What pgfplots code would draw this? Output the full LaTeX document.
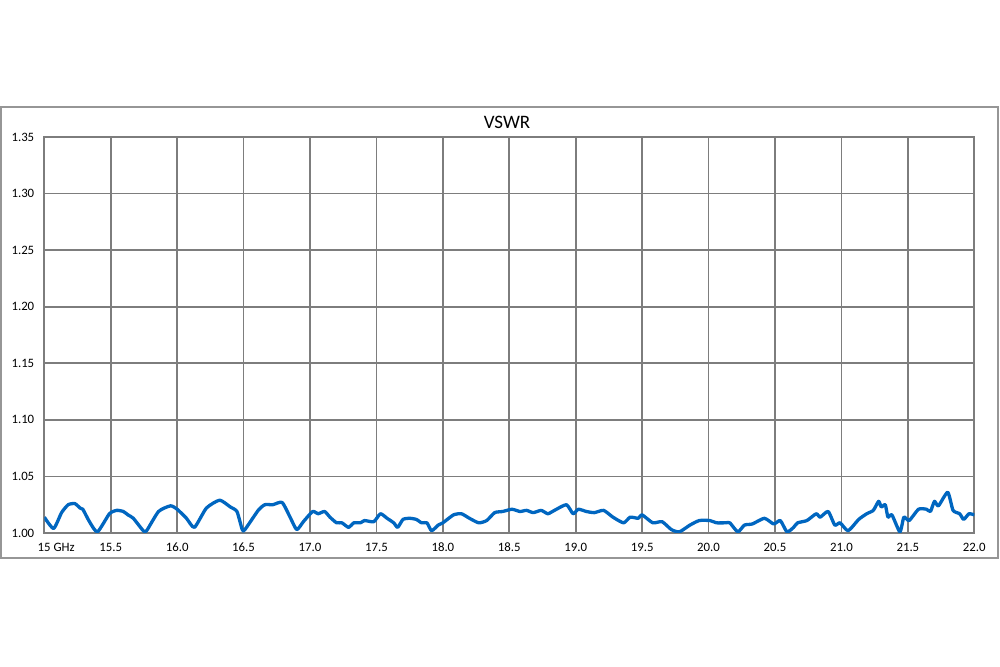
\documentclass[border=0pt]{standalone}
\usepackage{pgfplots}
\pgfplotsset{compat=1.18}
\usepackage{fontspec}
\setmainfont{Carlito}
\definecolor{gridgray}{RGB}{125,125,125}
\definecolor{framegray}{RGB}{150,150,150}
\definecolor{vswrblue}{RGB}{0,102,192}
\begin{document}
\begin{tikzpicture}[x=0.5pt,y=0.5pt]
\path[use as bounding box] (0,0) rectangle (1000,667);
\fill[white] (0,0) rectangle (1000,667);
\draw[framegray, line width=1pt] (1,109) rectangle (998,560);
\node[font=\fontsize{9.5pt}{11pt}\selectfont] at (507,545) {VSWR};
\begin{axis}[
  at={(22.15pt,67pt)}, anchor=south west,
  scale only axis, width=465pt, height=198pt,
  xmin=15, xmax=22, ymin=1.0, ymax=1.35,
  xtick={15,15.5,...,22},
  xticklabels={\makebox[0pt][l]{\hspace*{-3.3pt}15 GHz},15.5,16.0,16.5,17.0,17.5,18.0,18.5,19.0,19.5,20.0,20.5,21.0,21.5,22.0},
  ytick={1.00,1.05,...,1.36},
  yticklabel style={/pgf/number format/fixed, /pgf/number format/fixed zerofill, /pgf/number format/precision=2},
  /pgf/number format/assume math mode=true,
  tick label style={font=\fontsize{6.4pt}{7pt}\selectfont},
  xticklabel style={yshift=-1.5pt},
  yticklabel style={xshift=-1.5pt},
  major tick length=0pt,
  grid=major,
  grid style={gridgray, line width=0.9pt},
  axis line style={gridgray, line width=0.9pt},
  clip=true,
]
\addplot[vswrblue, line width=1.65pt, line join=round, smooth, tension=0.35] coordinates {
(15.00,1.014)(15.07,1.004)(15.13,1.018)(15.18,1.025)(15.23,1.026)(15.27,1.022)(15.29,1.021)(15.34,1.010)(15.40,1.001)(15.49,1.017)
(15.545,1.020)(15.595,1.019)(15.63,1.016)(15.67,1.013)(15.745,1.002)(15.77,1.002)(15.86,1.019)(15.95,1.024)(16.00,1.021)(16.07,1.013)
(16.13,1.005)(16.22,1.022)(16.32,1.029)(16.40,1.023)(16.45,1.019)(16.49,1.003)(16.51,1.003)(16.61,1.020)(16.66,1.025)(16.72,1.025)
(16.79,1.027)(16.85,1.014)(16.90,1.003)(16.95,1.010)(17.02,1.019)(17.06,1.017)(17.11,1.019)(17.15,1.014)(17.20,1.009)(17.24,1.009)
(17.29,1.005)(17.33,1.009)(17.38,1.009)(17.41,1.011)(17.48,1.010)(17.53,1.017)(17.58,1.013)(17.63,1.009)(17.66,1.005)(17.70,1.012)
(17.75,1.013)(17.80,1.012)(17.84,1.009)(17.88,1.009)(17.915,1.002)(17.965,1.007)(18.00,1.009)(18.08,1.016)(18.14,1.017)(18.20,1.013)
(18.27,1.009)(18.33,1.011)(18.39,1.018)(18.45,1.019)(18.52,1.021)(18.58,1.019)(18.63,1.020)(18.68,1.018)(18.74,1.020)(18.79,1.017)
(18.84,1.020)(18.93,1.025)(18.98,1.017)(19.02,1.021)(19.08,1.019)(19.14,1.018)(19.21,1.020)(19.28,1.014)(19.36,1.009)(19.41,1.014)
(19.47,1.013)(19.50,1.016)(19.58,1.009)(19.65,1.010)(19.72,1.003)(19.78,1.001)(19.86,1.007)(19.93,1.011)(20.01,1.011)(20.06,1.009)
(20.13,1.009)(20.16,1.009)(20.22,1.001)(20.27,1.007)(20.33,1.008)(20.42,1.013)(20.49,1.008)(20.54,1.011)(20.59,1.001)(20.64,1.005)
(20.67,1.009)(20.74,1.011)(20.81,1.017)(20.84,1.014)(20.90,1.019)(20.95,1.007)(20.99,1.009)(21.05,1.002)(21.13,1.012)(21.19,1.017)
(21.24,1.020)(21.28,1.028)(21.30,1.023)(21.33,1.025)(21.35,1.014)(21.38,1.016)(21.44,1.001)(21.47,1.014)(21.51,1.011)(21.58,1.021)
(21.64,1.021)(21.67,1.019)(21.70,1.028)(21.73,1.024)(21.80,1.036)(21.84,1.020)(21.89,1.017)(21.92,1.012)(21.96,1.017)(22.00,1.016)
};
\end{axis}
\end{tikzpicture}
\end{document}
